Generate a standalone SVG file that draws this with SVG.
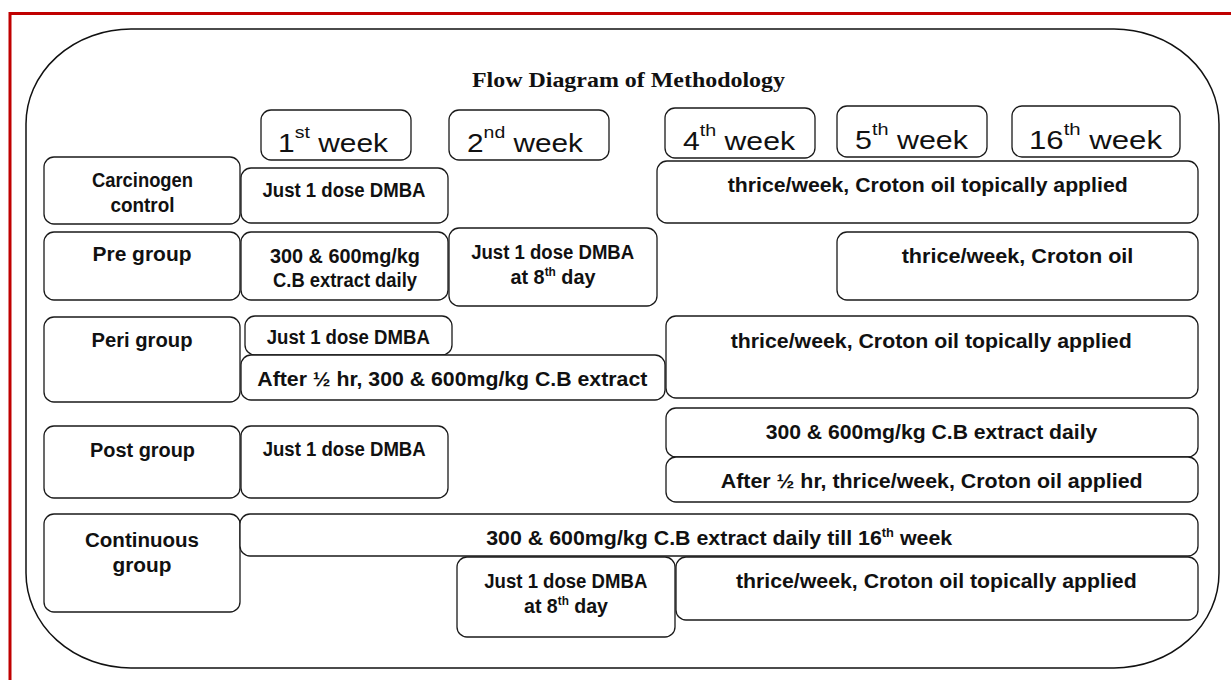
<svg xmlns="http://www.w3.org/2000/svg" width="1231" height="680" viewBox="0 0 1231 680">
<style>
.box{fill:#fff;stroke:#1a1a1a;stroke-width:1.3}
.t{font-family:"Liberation Sans",Arial,sans-serif;font-weight:bold;font-size:20px;fill:#111;text-anchor:middle}
.wk{font-family:"Liberation Sans",Arial,sans-serif;font-size:26px;fill:#111;text-anchor:middle}
.title{font-family:"Liberation Serif","Times New Roman",serif;font-weight:bold;font-size:20px;fill:#111;text-anchor:middle}
</style>
<rect width="1231" height="680" fill="#fff"/>
<rect x="10" y="13.5" width="1240" height="700" fill="none" stroke="#c00000" stroke-width="3"/>
<rect x="26" y="29" width="1193" height="639" rx="105" ry="95" fill="none" stroke="#111" stroke-width="1.5"/>
<text class="title" x="628.5" y="87" textLength="313" lengthAdjust="spacingAndGlyphs">Flow Diagram of Methodology</text>

<g id="week1"><rect class="box" x="261" y="110" width="150" height="50" rx="10"/><text class="wk" x="333" y="152" textLength="110" lengthAdjust="spacingAndGlyphs">1<tspan font-size="17" dy="-14">st</tspan><tspan dy="14"> week</tspan></text></g>
<g id="week2"><rect class="box" x="449" y="110" width="160" height="50" rx="10"/><text class="wk" x="525" y="152" textLength="116" lengthAdjust="spacingAndGlyphs">2<tspan font-size="17" dy="-14">nd</tspan><tspan dy="14"> week</tspan></text></g>
<g id="week4"><rect class="box" x="665" y="108" width="150" height="50" rx="10"/><text class="wk" x="739" y="150" textLength="112" lengthAdjust="spacingAndGlyphs">4<tspan font-size="17" dy="-14">th</tspan><tspan dy="14"> week</tspan></text></g>
<g id="week5"><rect class="box" x="837" y="106" width="150" height="51" rx="10"/><text class="wk" x="911.5" y="149" textLength="113" lengthAdjust="spacingAndGlyphs">5<tspan font-size="17" dy="-14">th</tspan><tspan dy="14"> week</tspan></text></g>
<g id="week16"><rect class="box" x="1012" y="106" width="168" height="51" rx="10"/><text class="wk" x="1095.5" y="149" textLength="133" lengthAdjust="spacingAndGlyphs">16<tspan font-size="17" dy="-14">th</tspan><tspan dy="14"> week</tspan></text></g>

<g id="carcinogen-label"><rect class="box" x="44" y="157" width="196" height="67" rx="10"/><text class="t" x="142.5" y="186.5" textLength="101" lengthAdjust="spacingAndGlyphs">Carcinogen</text><text class="t" x="142.5" y="211.5" textLength="64" lengthAdjust="spacingAndGlyphs">control</text></g>
<g id="carcinogen-dmba"><rect class="box" x="241" y="168" width="207" height="55" rx="10"/><text class="t" x="344" y="196.7" textLength="163" lengthAdjust="spacingAndGlyphs">Just 1 dose DMBA</text></g>
<g id="carcinogen-croton"><rect class="box" x="657" y="161" width="541" height="62" rx="10"/><text class="t" x="927.7" y="192.3" textLength="400" lengthAdjust="spacingAndGlyphs">thrice/week, Croton oil topically applied</text></g>

<g id="pre-label"><rect class="box" x="44" y="232" width="196" height="68" rx="10"/><text class="t" x="142" y="261" textLength="99" lengthAdjust="spacingAndGlyphs">Pre group</text></g>
<g id="pre-extract"><rect class="box" x="241" y="232" width="207" height="68" rx="10"/><text class="t" x="345" y="262.7" textLength="150" lengthAdjust="spacingAndGlyphs">300 &amp; 600mg/kg</text><text class="t" x="345" y="286.7" textLength="144" lengthAdjust="spacingAndGlyphs">C.B extract daily</text></g>
<g id="pre-dmba"><rect class="box" x="449" y="228" width="208" height="78" rx="10"/><text class="t" x="552.7" y="259" textLength="163" lengthAdjust="spacingAndGlyphs">Just 1 dose DMBA</text><text class="t" x="553" y="284" textLength="85" lengthAdjust="spacingAndGlyphs">at 8<tspan font-size="12" dy="-8">th</tspan><tspan dy="8"> day</tspan></text></g>
<g id="pre-croton"><rect class="box" x="837" y="232" width="361" height="68" rx="10"/><text class="t" x="1017.5" y="263.3" textLength="231.7" lengthAdjust="spacingAndGlyphs">thrice/week, Croton oil</text></g>

<g id="peri-label"><rect class="box" x="44" y="317" width="196" height="85" rx="10"/><text class="t" x="142" y="346.7" textLength="101" lengthAdjust="spacingAndGlyphs">Peri group</text></g>
<g id="peri-dmba"><rect class="box" x="245" y="316" width="207" height="39" rx="10"/><text class="t" x="348.3" y="344.3" textLength="163" lengthAdjust="spacingAndGlyphs">Just 1 dose DMBA</text></g>
<g id="peri-extract"><rect class="box" x="241" y="355" width="424" height="45" rx="10"/><text class="t" x="452.3" y="386" textLength="390" lengthAdjust="spacingAndGlyphs">After ½ hr, 300 &amp; 600mg/kg C.B extract</text></g>
<g id="peri-croton"><rect class="box" x="666" y="316" width="532" height="82" rx="10"/><text class="t" x="931.2" y="348.3" textLength="401" lengthAdjust="spacingAndGlyphs">thrice/week, Croton oil topically applied</text></g>

<g id="post-label"><rect class="box" x="44" y="426" width="196" height="72" rx="10"/><text class="t" x="142.5" y="456.7" textLength="105" lengthAdjust="spacingAndGlyphs">Post group</text></g>
<g id="post-dmba"><rect class="box" x="241" y="426" width="207" height="72" rx="10"/><text class="t" x="344.2" y="456.2" textLength="163" lengthAdjust="spacingAndGlyphs">Just 1 dose DMBA</text></g>
<g id="post-extract"><rect class="box" x="666" y="408" width="532" height="49" rx="10"/><text class="t" x="931.5" y="439.3" textLength="331.7" lengthAdjust="spacingAndGlyphs">300 &amp; 600mg/kg C.B extract daily</text></g>
<g id="post-croton"><rect class="box" x="666" y="457" width="532" height="45" rx="10"/><text class="t" x="931.7" y="487.7" textLength="422" lengthAdjust="spacingAndGlyphs">After ½ hr, thrice/week, Croton oil applied</text></g>

<g id="continuous-label"><rect class="box" x="44" y="514" width="196" height="98" rx="10"/><text class="t" x="142" y="547" textLength="114" lengthAdjust="spacingAndGlyphs">Continuous</text><text class="t" x="142" y="571.7" textLength="59" lengthAdjust="spacingAndGlyphs">group</text></g>
<g id="continuous-extract"><rect class="box" x="240" y="514" width="958" height="42" rx="10"/><text class="t" x="719.2" y="544.5" textLength="466" lengthAdjust="spacingAndGlyphs">300 &amp; 600mg/kg C.B extract daily till 16<tspan font-size="12" dy="-8">th</tspan><tspan dy="8"> week</tspan></text></g>
<g id="continuous-dmba"><rect class="box" x="457" y="557" width="218" height="80" rx="10"/><text class="t" x="565.8" y="587.7" textLength="163" lengthAdjust="spacingAndGlyphs">Just 1 dose DMBA</text><text class="t" x="566" y="613.3" textLength="84" lengthAdjust="spacingAndGlyphs">at 8<tspan font-size="12" dy="-8">th</tspan><tspan dy="8"> day</tspan></text></g>
<g id="continuous-croton"><rect class="box" x="676" y="557" width="522" height="63" rx="10"/><text class="t" x="936.3" y="588.3" textLength="400.7" lengthAdjust="spacingAndGlyphs">thrice/week, Croton oil topically applied</text></g>
</svg>
